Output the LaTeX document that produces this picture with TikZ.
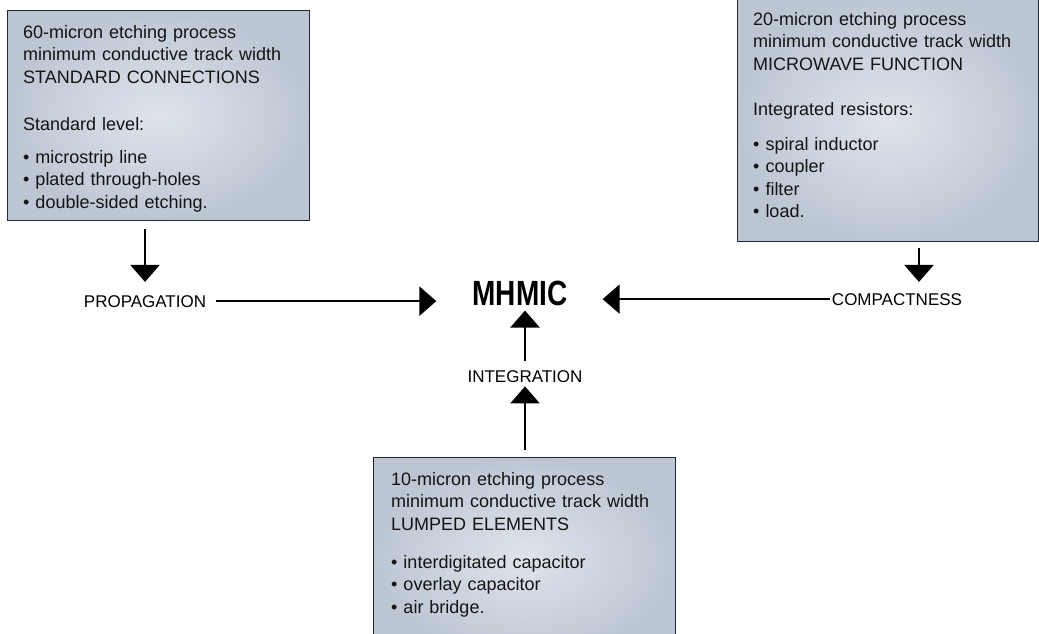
\documentclass[tikz,border=0pt]{standalone}
\usepackage{fontspec}
\setmainfont{Liberation Sans}
\newfontfamily\titlefont[FakeStretch=0.8]{Liberation Sans Bold}
\usetikzlibrary{arrows.meta}
\definecolor{panelinner}{HTML}{DFE4EB}
\definecolor{panelouter}{HTML}{BCC6D3}
\definecolor{panelline}{HTML}{1E2736}
\tikzset{
  panel/.style={draw=panelline, line width=1.4pt, inner color=panelinner, outer color=panelouter,
    minimum width=302pt, anchor=north west},
  boxtext/.style={anchor=north west, inner sep=0pt, align=left, text width=285pt,
    text=black!92, font=\fontsize{18}{22.5}\selectfont},
  lbl/.style={anchor=base, inner sep=0pt, font=\fontsize{17}{20}\selectfont},
  arr/.style={line width=2.4pt, -{Triangle[length=17pt,width=29pt]}}
}
\begin{document}
\begin{tikzpicture}[x=1pt, y=-1pt]
        \useasboundingbox (0,0) rectangle (1039,634);
        \clip (0,0) rectangle (1039,634);
        \node[panel, minimum height=210pt] (std box) at (7,10) {};
        \node[panel, minimum height=244pt, minimum width=301pt] (mw box) at (737,-3) {};
        \node[panel, minimum height=200pt] (lump box) at (373,457) {};
        \node[boxtext] (std text) at ([shift={(16pt,-15pt)}]std box.north west)
            {60-micron etching process\\ minimum conductive track width\\ STANDARD CONNECTIONS\\[24.5pt]
             Standard level:\\[10.5pt]
             \textbullet\ microstrip line\\ \textbullet\ plated through-holes\\ \textbullet\ double-sided etching.};
        \node[boxtext] (mw text) at ([shift={(16pt,-15pt)}]mw box.north west)
            {20-micron etching process\\ minimum conductive track width\\ MICROWAVE FUNCTION\\[22.5pt]
             Integrated resistors:\\[12.5pt]
             \textbullet\ spiral inductor\\ \textbullet\ coupler\\ \textbullet\ filter\\ \textbullet\ load.};
        \node[boxtext] (lump text) at ([shift={(18pt,-15pt)}]lump box.north west)
            {10-micron etching process\\ minimum conductive track width\\ LUMPED ELEMENTS\\[15.5pt]
             \textbullet\ interdigitated capacitor\\ \textbullet\ overlay capacitor\\ \textbullet\ air bridge.};
        \node[anchor=base, inner sep=0pt, font=\titlefont\fontsize{35}{40}\selectfont] (mhmic) at (520,305) {MHMIC};
        \node[lbl] (prop) at (145,307) {PROPAGATION};
        \node[lbl] (comp) at (897,305) {COMPACTNESS};
        \node[lbl] (integ) at (525,382) {INTEGRATION};
        \coordinate (comp arrow) at ([xshift=22pt]comp.north);
        \draw[arr, shorten <=8pt, shorten >=13pt] (std box.south -| prop.north) -- (prop.north);
        \draw[arr, shorten <=10pt, shorten >=36pt] (prop.east) -- (prop.east -| mhmic.west);
        \draw[arr, shorten <=6pt, shorten >=11pt] (comp arrow |- mw box.south) -- (comp arrow);
        \draw[arr, shorten <=2pt, shorten >=35pt] (comp.west) -- (comp.west -| mhmic.east);
        \draw[arr, shorten <=9pt, shorten >=5pt] (integ.north) -- (integ.north |- mhmic.south);
        \draw[arr, shorten <=7pt, shorten >=4pt] (lump box.north -| integ.south) -- (integ.south);
    \end{tikzpicture}
\end{document}
